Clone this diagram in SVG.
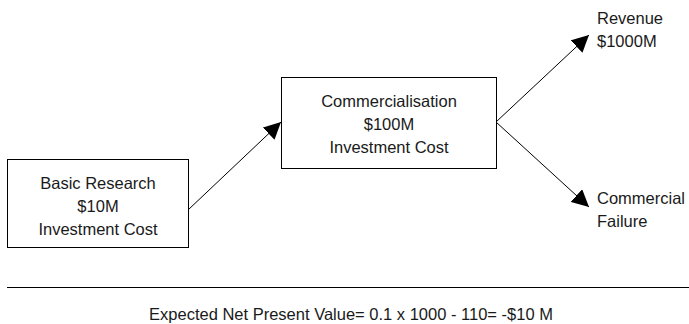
<svg xmlns="http://www.w3.org/2000/svg" width="689" height="324" viewBox="0 0 689 324">
<style>
.box{fill:#fff;stroke:#000;stroke-width:1}
.t{font-family:"Liberation Sans",Arial,sans-serif;font-size:16.5px;fill:#1a1a1a}
.c{text-anchor:middle}
.ln{stroke:#000;stroke-width:1;fill:none}
</style>
<defs>
<marker id="ah" viewBox="0 0 10 10" refX="10" refY="5" markerWidth="17" markerHeight="17" markerUnits="userSpaceOnUse" orient="auto">
<path d="M0,0 L10,5 L0,10 z" fill="#000"/>
</marker>
</defs>
<rect width="689" height="324" fill="#fff"/>
<g id="connectors">
<line class="ln" x1="188" y1="210" x2="281" y2="122" marker-end="url(#ah)"/>
<line class="ln" x1="496" y1="122" x2="589" y2="35" marker-end="url(#ah)"/>
<line class="ln" x1="496" y1="122" x2="589" y2="207" marker-end="url(#ah)"/>
</g>
<g id="basic">
<rect class="box" x="7.5" y="159.5" width="181" height="88"/>
<text class="t c" x="98" y="189">Basic Research</text>
<text class="t c" x="98" y="212">$10M</text>
<text class="t c" x="98" y="235">Investment Cost</text>
</g>
<g id="commercialisation">
<rect class="box" x="281.5" y="77.5" width="215" height="91"/>
<text class="t c" x="389" y="107">Commercialisation</text>
<text class="t c" x="389" y="130">$100M</text>
<text class="t c" x="389" y="153">Investment Cost</text>
</g>
<g id="revenue">
<text class="t" x="597" y="24">Revenue</text>
<text class="t" x="597" y="47">$1000M</text>
</g>
<g id="failure">
<text class="t" x="597" y="204">Commercial</text>
<text class="t" x="597" y="227">Failure</text>
</g>
<g id="summary">
<line class="ln" x1="7" y1="287.5" x2="689" y2="287.5"/>
<text class="t c" x="351" y="320">Expected Net Present Value= 0.1 x 1000 - 110= -$10 M</text>
</g>
</svg>
